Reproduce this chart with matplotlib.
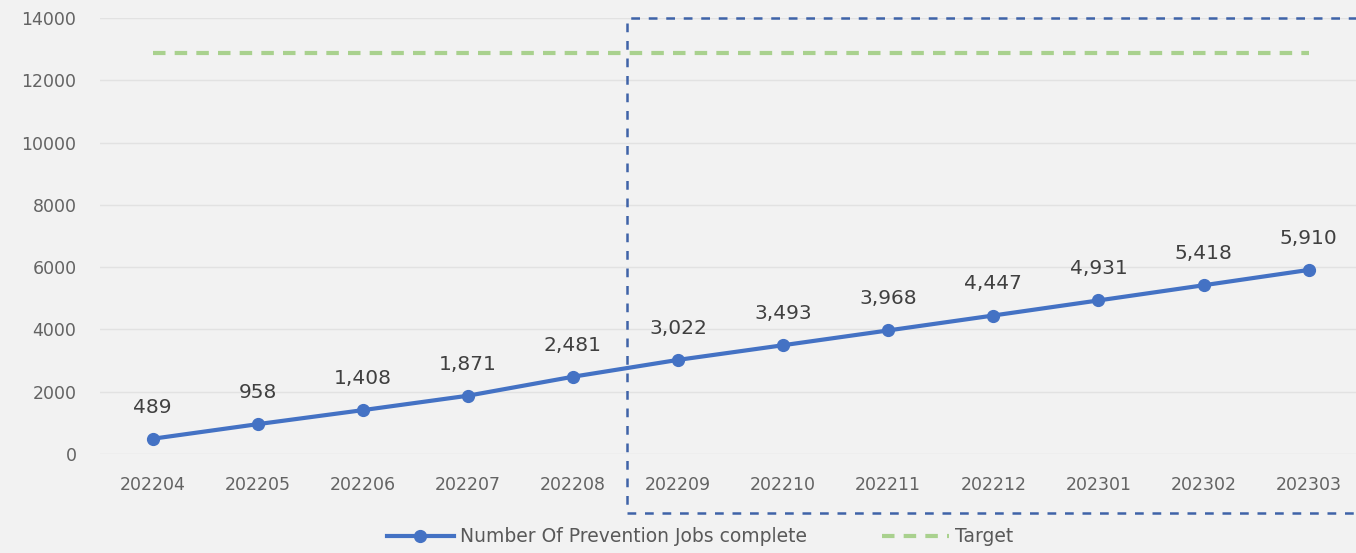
import matplotlib
matplotlib.use("Agg")
import matplotlib.pyplot as plt
from matplotlib.lines import Line2D

months = ["202204", "202205", "202206", "202207", "202208", "202209",
          "202210", "202211", "202212", "202301", "202302", "202303"]
jobs = [489, 958, 1408, 1871, 2481, 3022, 3493, 3968, 4447, 4931, 5418, 5910]
target = [12870] * 12
yticks = [0, 2000, 4000, 6000, 8000, 10000, 12000, 14000]

W, H = 1356, 553
fig = plt.figure(figsize=(W / 100, H / 100), dpi=100)
fig.patch.set_facecolor("#f2f2f2")

left_px, right_px = 100, 1356
bot_px, top_px = 454, 18
ax = fig.add_axes([left_px / W, 1 - bot_px / H, (right_px - left_px) / W, (bot_px - top_px) / H])
ax.set_facecolor("#f2f2f2")

x = list(range(len(months)))
step = 105.1
ax.set_xlim(-0.5, -0.5 + (right_px - left_px) / step)
ax.set_ylim(0, 14000)

ax.set_yticks(yticks)
ax.set_yticklabels([str(v) for v in yticks])
ax.set_xticks(x)
ax.set_xticklabels(months)
ax.tick_params(axis="both", length=0, colors="#636363", labelsize=12.5)
ax.tick_params(axis="x", pad=16)
ax.tick_params(axis="y", pad=17)
for s in ax.spines.values():
    s.set_visible(False)
ax.grid(axis="y", color="#e2e2e2", linewidth=1)
ax.set_axisbelow(True)

l1, = ax.plot(x, jobs, color="#4472C4", linewidth=3, marker="o", markersize=8.5,
              label="Number Of Prevention Jobs complete", zorder=3)
l2, = ax.plot(x, target, color="#A9D18E", linewidth=3, linestyle=(0, (3, 2.2)),
              label="Target", zorder=2)

for xi, v in zip(x, jobs):
    ax.annotate(f"{v:,}", (xi, v), xytext=(0, 16), textcoords="offset points",
                ha="center", va="bottom", fontsize=14.5, color="#404040")

leg = fig.legend(handles=[l1, l2], loc="center", bbox_to_anchor=(700 / W, 1 - 537 / H),
                 ncol=2, frameon=False, fontsize=13.5, handlelength=3.6, columnspacing=4,
                 handletextpad=0.3)
for t in leg.get_texts():
    t.set_color("#595959")

# dashed highlight rectangle (figure coords)
rx0, ry0, ry1 = 627, 18, 513
xs = [W + 10, rx0, rx0, W + 10]
ys = [ry0, ry0, ry1, ry1]
fig.add_artist(Line2D([v / W for v in xs], [1 - v / H for v in ys], transform=fig.transFigure,
                      color="#3f63a8", linewidth=1.8, linestyle=(0, (3.5, 3.5)), zorder=5))

fig.savefig("out.png", dpi=100, facecolor=fig.get_facecolor())
